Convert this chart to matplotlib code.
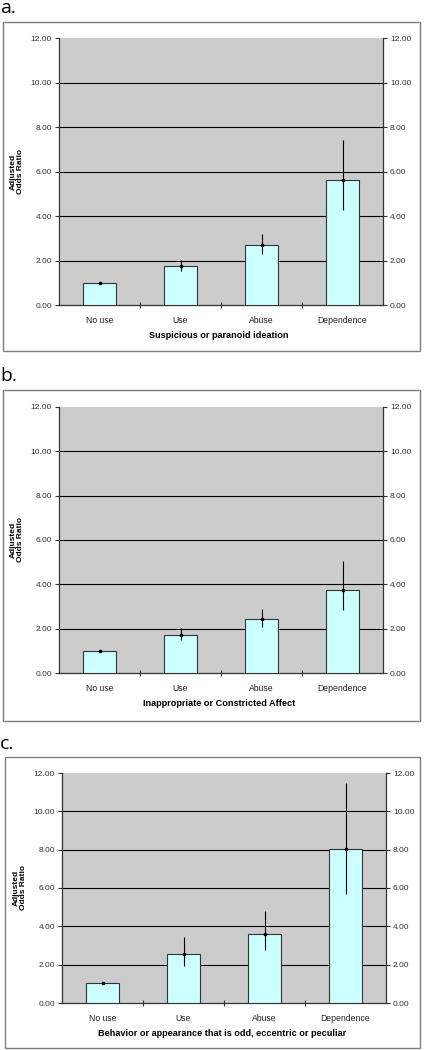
import matplotlib
matplotlib.use("Agg")
import matplotlib.pyplot as plt
from matplotlib.patches import Rectangle

categories = ["No use", "Use", "Abuse", "Dependence"]

panel_letters = ["a.", "b.", "c."]
panel_titles = [
    "Suspicious or paranoid ideation",
    "Inappropriate or Constricted Affect",
    "Behavior or appearance that is odd, eccentric or peculiar",
]

odds_a = [1.00, 1.76, 2.68, 5.62]
low_a = [0.98, 1.51, 2.30, 4.28]
high_a = [1.05, 2.03, 3.20, 7.42]

odds_b = [1.00, 1.70, 2.44, 3.75]
low_b = [0.98, 1.47, 2.07, 2.83]
high_b = [1.04, 2.03, 2.88, 5.04]

odds_c = [1.03, 2.57, 3.61, 8.05]
low_c = [1.01, 1.91, 2.75, 5.70]
high_c = [1.08, 3.43, 4.78, 11.46]

y_ticks = [0, 2, 4, 6, 8, 10, 12]

W, H = 424, 1050
fig = plt.figure(figsize=(W / 100, H / 100), dpi=100)
plt.rcParams["font.family"] = ["Liberation Sans", "DejaVu Sans"]

# pixel layouts: axes (l, r, t, b), box (l, r, t, b), letter baseline, ylabel x, category y, title y
layouts = [
    ((59, 383, 38, 305), (3, 420, 22, 351), 13, 17, 318, 335),
    ((59, 383, 407, 673), (3, 420, 390, 721), 381, 17, 687, 703),
    ((62, 386, 773, 1003), (5, 420, 757, 1048), 749, 20, 1017, 1033),
]
series = [(odds_a, low_a, high_a), (odds_b, low_b, high_b), (odds_c, low_c, high_c)]


def px_rect(l, r, t, b):
    return [l / W, 1 - b / H, (r - l) / W, (b - t) / H]


for (ax_px, box_px, letter_y, ylab_x, cat_y, title_y), (odds, low, high), letter, title in zip(
        layouts, series, panel_letters, panel_titles):
    bl, br, bt, bb = box_px
    fig.add_artist(Rectangle((bl / W, 1 - bb / H), (br - bl) / W, (bb - bt) / H,
                             transform=fig.transFigure, fill=False,
                             edgecolor="#7f7f7f", linewidth=1.0))
    fig.text(0 / W, 1 - letter_y / H, letter, fontsize=14, ha="left", va="baseline",
             family=["Open Sans", "DejaVu Sans"])

    ax = fig.add_axes(px_rect(*ax_px))
    ax.set_facecolor("#cccccc")
    x = list(range(len(categories)))
    ax.bar(x, odds, width=0.41, color="#ccffff", edgecolor="#333333", linewidth=0.8, zorder=3)
    yerr = [[o - lo for o, lo in zip(odds, low)], [hi - o for o, hi in zip(odds, high)]]
    ax.errorbar(x, odds, yerr=yerr, fmt="s", color="black", markersize=1.6,
                elinewidth=0.8, capsize=0, zorder=4)
    for t in y_ticks[1:-1]:
        ax.axhline(t, color="black", linewidth=0.8, zorder=1)

    ax.set_xlim(-0.5, len(categories) - 0.5)
    ax.set_ylim(y_ticks[0], y_ticks[-1])
    ax.set_yticks(y_ticks)
    ax.set_yticklabels([f"{t:.2f}" for t in y_ticks])
    ax.tick_params(axis="y", direction="out", length=3, width=0.8, labelsize=6,
                   colors="#333333", labelcolor="#333333", right=True, labelright=True, pad=2)
    ax.set_xticks(x)
    ax.set_xticklabels(categories)
    ax.tick_params(axis="x", length=0, labelsize=6.2, pad=8, labelcolor="#222222")
    ax.set_xticks([i + 0.5 for i in x[:-1]], minor=True)
    ax.tick_params(axis="x", which="minor", direction="inout", length=5, width=0.8,
                   color="#333333")

    for side in ["left", "right", "bottom"]:
        ax.spines[side].set_color("#333333")
        ax.spines[side].set_linewidth(0.9)
    ax.spines["top"].set_visible(False)

    fig.text(ylab_x / W, 1 - ((ax_px[2] + ax_px[3]) / 2) / H, "Adjusted\nOdds Ratio",
             rotation=90, ha="center", va="center", fontsize=6, fontweight="bold",
             linespacing=1.0)
    fig.text(((ax_px[0] + ax_px[1]) / 2 - 2) / W, 1 - title_y / H, title,
             ha="center", va="center", fontsize=6.6, fontweight="bold")

fig.savefig("out.png", dpi=100)
